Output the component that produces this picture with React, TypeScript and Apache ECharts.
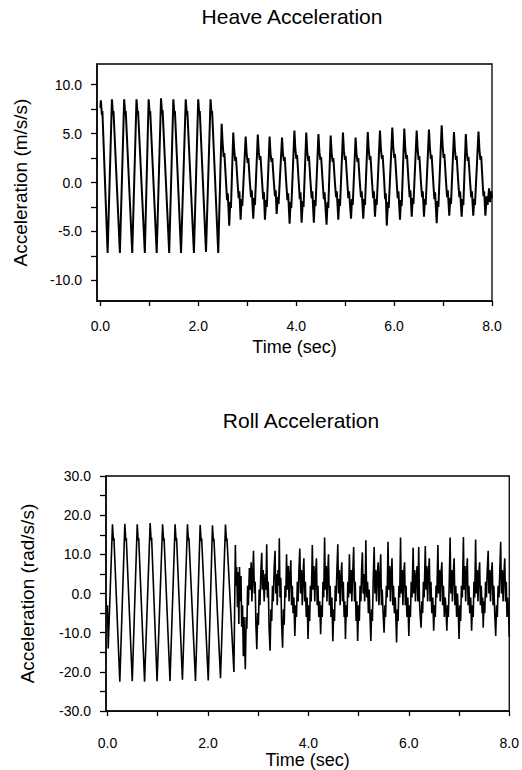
import React, { useEffect, useRef } from "react";
import * as echarts from "echarts";

// ---- axis ticks / labels ----
const timeTicks = [0, 1, 2, 3, 4, 5, 6, 7, 8];
const timeLabels = [0, 2, 4, 6, 8];
const heaveTicks = [-10, -7.5, -5, -2.5, 0, 2.5, 5, 7.5, 10];
const heaveLabels = [-10, -5, 0, 5, 10];
const rollTicks = [-30, -25, -20, -15, -10, -5, 0, 5, 10, 15, 20, 25, 30];
const rollLabels = [-30, -20, -10, 0, 10, 20, 30];

// ---- Heave acceleration (m/s/s), [time s, value] ----
const heaveRegular: [number, number][] = [
  [0.0, 7.6], [0.008, 8.4], [0.03, 6.9], [0.04, 7.3], [0.147, -7.2],
  [0.235, 8.5], [0.257, 6.9], [0.267, 7.3], [0.398, -7.2],
  [0.485, 8.5], [0.507, 6.9], [0.517, 7.3], [0.65, -7.2],
  [0.737, 8.5], [0.759, 7.0], [0.769, 7.3], [0.907, -7.2],
  [0.985, 8.5], [1.007, 6.9], [1.017, 7.3], [1.15, -7.2],
  [1.238, 8.6], [1.26, 7.0], [1.27, 7.4], [1.405, -7.2],
  [1.49, 8.5], [1.512, 6.9], [1.522, 7.3], [1.647, -7.2],
  [1.743, 8.5], [1.765, 6.9], [1.775, 7.3], [1.91, -7.2],
  [1.998, 8.5], [2.02, 6.9], [2.03, 7.3], [2.157, -7.1],
  [2.25, 8.5], [2.272, 6.9], [2.282, 7.3], [2.407, -7.2],
];

const heaveIrregularA: [number, number][] = [
  [2.477, 6.0], [2.497, 4.0], [2.517, 2.6], [2.532, 3.0], [2.562, 0.4], [2.587, -1.8], [2.602, -1.1], [2.632, -4.4], [2.652, -2.0], [2.667, -2.6],
  [2.714, 5.1], [2.734, 3.3], [2.754, 2.2], [2.769, 2.6], [2.799, 0.2], [2.824, -1.6], [2.839, -0.9], [2.864, -3.8], [2.884, -1.7], [2.899, -2.4],
  [2.967, 4.7], [2.987, 3.0], [3.007, 2.0], [3.022, 2.5], [3.052, 0.1], [3.077, -1.5], [3.092, -0.8], [3.122, -3.7], [3.142, -1.6], [3.157, -2.3],
  [3.215, 4.9], [3.235, 3.1], [3.255, 2.3], [3.27, 2.7], [3.3, 0.3], [3.325, -1.7], [3.34, -1.0], [3.361, -3.8], [3.385, -1.8], [3.4, -2.5],
  [3.456, 4.7], [3.476, 2.9], [3.496, 2.1], [3.511, 2.5], [3.541, 0.2], [3.566, -1.4], [3.581, -0.8], [3.6, -3.2], [3.625, -1.5], [3.64, -2.2],
  [3.71, 4.6], [3.73, 2.9], [3.75, 2.2], [3.765, 2.6], [3.795, 0.1], [3.82, -1.8], [3.835, -1.1], [3.865, -4.2], [3.885, -2.0], [3.9, -2.6],
  [3.963, 5.3], [3.983, 3.4], [4.003, 2.4], [4.018, 2.8], [4.048, 0.3], [4.073, -1.7], [4.088, -1.0], [4.11, -4.1], [4.135, -1.9], [4.15, -2.5],
  [4.205, 5.1], [4.225, 3.2], [4.245, 2.2], [4.26, 2.7], [4.29, 0.2], [4.315, -1.6], [4.33, -0.9], [4.36, -4.1], [4.38, -1.8], [4.395, -2.4],
  [4.454, 4.95], [4.474, 3.1], [4.494, 2.3], [4.509, 2.6], [4.539, 0.2], [4.564, -1.7], [4.579, -1.0], [4.62, -4.3], [4.64, -2.0], [4.655, -2.6],
  [4.704, 4.8], [4.724, 3.0], [4.744, 2.1], [4.759, 2.5], [4.789, 0.1], [4.814, -1.5], [4.829, -0.9], [4.86, -3.8], [4.88, -1.7], [4.895, -2.4],
  [4.955, 5.1], [4.975, 3.2], [4.995, 2.3], [5.01, 2.7], [5.04, 0.3], [5.065, -1.6], [5.08, -0.9], [5.12, -3.7], [5.14, -1.7], [5.155, -2.3],
];

const heaveIrregularB: [number, number][] = [
  [5.213, 4.6], [5.233, 2.9], [5.253, 2.1], [5.268, 2.5], [5.298, 0.1], [5.323, -1.5], [5.338, -0.9], [5.37, -3.7], [5.39, -1.7], [5.405, -2.3],
  [5.462, 5.15], [5.482, 3.3], [5.502, 2.3], [5.517, 2.7], [5.547, 0.2], [5.572, -1.6], [5.587, -0.9], [5.609, -3.5], [5.63, -1.7], [5.645, -2.3],
  [5.711, 5.3], [5.731, 3.4], [5.751, 2.4], [5.766, 2.8], [5.796, 0.3], [5.816, -1.7], [5.83, -1.1], [5.85, -4.4], [5.875, -2.0], [5.89, -2.6],
  [5.963, 5.6], [5.983, 3.6], [6.003, 2.5], [6.018, 2.9], [6.048, 0.4], [6.073, -1.6], [6.088, -0.9], [6.12, -3.8], [6.14, -1.8], [6.155, -2.4],
  [6.208, 5.5], [6.228, 3.5], [6.248, 2.4], [6.263, 2.8], [6.293, 0.3], [6.318, -1.5], [6.333, -0.8], [6.36, -3.5], [6.38, -1.6], [6.395, -2.2],
  [6.461, 5.3], [6.481, 3.4], [6.501, 2.3], [6.516, 2.7], [6.546, 0.2], [6.571, -1.5], [6.586, -0.9], [6.61, -3.5], [6.63, -1.7], [6.645, -2.3],
  [6.712, 5.4], [6.732, 3.5], [6.752, 2.4], [6.767, 2.8], [6.797, 0.3], [6.822, -1.7], [6.837, -1.0], [6.87, -4.15], [6.89, -1.9], [6.905, -2.5],
  [6.972, 5.85], [6.992, 3.7], [7.012, 2.5], [7.027, 2.9], [7.057, 0.4], [7.082, -1.5], [7.097, -0.8], [7.127, -3.4], [7.147, -1.6], [7.162, -2.2],
  [7.223, 5.15], [7.243, 3.3], [7.263, 2.3], [7.278, 2.7], [7.308, 0.2], [7.333, -1.5], [7.348, -0.9], [7.38, -3.5], [7.4, -1.7], [7.415, -2.3],
  [7.465, 4.95], [7.485, 3.1], [7.505, 2.2], [7.52, 2.6], [7.55, 0.2], [7.575, -1.5], [7.59, -0.9], [7.617, -3.4], [7.637, -1.7], [7.652, -2.3],
  [7.724, 5.2], [7.744, 3.3], [7.764, 2.3], [7.779, 2.7], [7.805, 0.3], [7.825, -1.4], [7.84, -0.9], [7.865, -3.4], [7.89, -1.4], [7.91, -2.3],
  [7.94, -0.6], [7.96, -2.0], [7.985, -0.9], [8.0, -1.6],
];

// ---- Roll acceleration (rad/s/s), [time s, value] ----
const rollRegular: [number, number][] = [
  [0.0, -3.0], [0.014, -14.0], [0.099, 17.7], [0.118, 13.5], [0.128, 14.2], [0.245, -22.5],
  [0.345, 17.8], [0.364, 13.5], [0.374, 14.2], [0.493, -22.4],
  [0.592, 17.7], [0.611, 13.5], [0.621, 14.2], [0.738, -22.5],
  [0.849, 18.0], [0.868, 13.6], [0.878, 14.3], [0.987, -22.4],
  [1.097, 17.7], [1.116, 13.5], [1.126, 14.2], [1.244, -22.3],
  [1.346, 17.7], [1.365, 13.5], [1.375, 14.2], [1.492, -22.0],
  [1.592, 17.7], [1.611, 13.5], [1.621, 14.2], [1.752, -22.3],
  [1.845, 17.5], [1.864, 13.4], [1.874, 14.1], [2.006, -22.2],
  [2.09, 17.4], [2.109, 13.3], [2.119, 14.0], [2.25, -21.6],
  [2.349, 17.6], [2.368, 13.4], [2.378, 14.1], [2.517, -20.0],
];

const rollIrregularA: [number, number][] = [
  [2.546, 12.4], [2.56, 2.0], [2.572, 6.8], [2.588, -3.5], [2.6, 5.5], [2.615, -7.8], [2.628, 6.8], [2.645, -2.0], [2.658, 4.5], [2.672, -8.5], [2.688, -3.0], [2.705, -16.0], [2.718, -6.0], [2.73, -12.0],
  [2.744, -19.3], [2.762, -6], [2.775, -9], [2.79, 2], [2.805, -3], [2.825, 6.5], [2.84, 1], [2.86, 8], [2.875, -2], [2.89, 4], [2.907, 10.9], [2.925, 0], [2.94, 3], [2.955, -8],
  [2.973, -14.2], [2.99, -5], [3.005, -8], [3.02, 1], [3.035, -3], [3.055, 6], [3.071, 10.4], [3.085, 1], [3.1, 6], [3.12, -2], [3.14, 5], [3.155, 1], [3.17, 12.6], [3.185, -1], [3.2, 3], [3.218, -9],
  [3.237, -14.6], [3.255, -4], [3.27, -7], [3.285, 2], [3.3, -2], [3.32, 7], [3.336, 10.9], [3.35, 0], [3.365, 5], [3.38, -3], [3.395, 6], [3.41, 2], [3.421, 14.1], [3.435, -1], [3.45, 4], [3.468, -8],
  [3.486, -13.8], [3.503, -4], [3.518, -8], [3.535, 2], [3.55, -1], [3.565, 10.0], [3.58, 1], [3.6, 7], [3.615, -2], [3.63, 4], [3.65, 8.5], [3.665, -3], [3.68, 2], [3.695, -5], [3.712, -1],
  [3.73, -10.8], [3.748, -3], [3.763, -6], [3.78, 3], [3.795, -2], [3.812, 6], [3.829, 11.5], [3.845, 0], [3.86, 6], [3.878, -3], [3.893, 5], [3.91, 9], [3.925, -2], [3.94, 3], [3.958, -6], [3.975, -1],
  [3.993, -11.6], [4.01, -3], [4.025, -7], [4.04, 2], [4.055, -2], [4.07, 6], [4.078, 12.4], [4.095, 1], [4.11, 7], [4.127, -2], [4.143, 5], [4.16, 9], [4.175, -3], [4.19, 2], [4.208, -6], [4.226, -2],
  [4.244, -10.4], [4.26, -3], [4.275, -6], [4.29, 3], [4.305, -1], [4.323, 14.3], [4.338, 1], [4.355, 7], [4.37, -2], [4.385, 5], [4.4, 10], [4.418, -3], [4.433, 2], [4.45, -6], [4.468, -1],
  [4.487, -12.2], [4.505, -4], [4.52, -7], [4.535, 2], [4.55, -2], [4.568, 6], [4.586, 12.6], [4.6, 0], [4.615, 6], [4.632, -3], [4.648, 4], [4.665, 8], [4.68, -2], [4.695, 3], [4.712, -6], [4.725, -2],
  [4.738, -11.6], [4.755, -3], [4.77, -6], [4.785, 3], [4.8, -1], [4.817, 10.0], [4.833, 0], [4.85, 6], [4.865, -2], [4.88, 4], [4.902, 11.9], [4.918, -2], [4.933, 3], [4.95, -7], [4.965, -2],
  [4.981, -12.1], [5.0, -3], [5.015, -7], [5.03, 2], [5.045, -2], [5.06, 6], [5.075, 10.5], [5.09, 0], [5.105, 5], [5.12, -2], [5.135, 4], [5.144, 13.6], [5.16, -1], [5.178, 3], [5.195, -5], [5.21, 1], [5.227, -6],
];

const rollIrregularB: [number, number][] = [
  [5.244, -12.1], [5.26, -4], [5.275, -7], [5.29, 3], [5.31, 11.9], [5.325, 0], [5.34, 6], [5.357, -2], [5.372, 5], [5.39, 8], [5.405, -3], [5.42, 3], [5.44, 10], [5.455, -3], [5.47, 1], [5.488, -5],
  [5.507, -10.0], [5.523, -3], [5.538, -6], [5.553, 2], [5.568, -1], [5.586, 13.2], [5.6, 1], [5.618, 7], [5.633, -2], [5.65, 5], [5.665, 9], [5.68, -3], [5.695, 2], [5.712, -5], [5.73, -1],
  [5.756, -12.5], [5.772, -4], [5.787, -7], [5.802, 2], [5.818, -1], [5.835, 14.3], [5.85, 0], [5.867, 6], [5.882, -3], [5.898, 5], [5.915, 8], [5.93, -3], [5.945, 2], [5.962, -6], [5.98, -1],
  [6.0, -10.8], [6.017, -3], [6.032, -6], [6.048, 3], [6.063, -1], [6.086, 11.7], [6.1, 0], [6.117, 6], [6.132, -2], [6.148, 4], [6.165, 7], [6.18, -2], [6.197, 11.9], [6.212, -2], [6.228, -6],
  [6.244, -8.7], [6.26, -2], [6.275, -5], [6.29, 3], [6.305, -1], [6.328, 12.1], [6.343, 1], [6.36, 7], [6.375, -2], [6.39, 5], [6.408, 9], [6.423, -2], [6.44, 3], [6.458, -5], [6.477, -1],
  [6.495, -9.5], [6.512, -3], [6.527, -6], [6.542, 2], [6.557, -1], [6.579, 12.4], [6.593, 0], [6.61, 6], [6.625, -2], [6.64, 5], [6.658, 8], [6.673, -3], [6.69, 2], [6.707, -6], [6.725, -1], [6.74, -4],
  [6.757, -9.5], [6.772, -3], [6.787, -6], [6.805, 3], [6.822, 14.3], [6.837, 0], [6.853, 6], [6.868, -2], [6.885, 5], [6.902, 9], [6.918, -3], [6.935, 2], [6.952, -6], [6.968, 0], [6.983, -4],
  [7.0, -11.6], [7.017, -3], [7.032, -7], [7.048, 2], [7.065, -1], [7.087, 14.4], [7.1, 1], [7.117, 7], [7.132, -2], [7.148, 5], [7.165, 9], [7.18, -3], [7.197, 2], [7.213, -5], [7.232, -1],
  [7.25, -9.5], [7.267, -3], [7.282, -6], [7.297, 3], [7.312, -1], [7.33, 13.8], [7.345, 0], [7.362, 6], [7.377, -2], [7.393, 5], [7.41, 8], [7.425, -3], [7.442, 2], [7.46, -5], [7.47, -1],
  [7.481, -8.7], [7.497, -2], [7.512, -5], [7.528, 3], [7.545, -1], [7.562, 6], [7.58, 10.9], [7.595, 0], [7.61, 6], [7.627, -2], [7.643, 5], [7.66, 8], [7.677, -3], [7.693, 2], [7.71, -5],
  [7.73, -10.8], [7.747, -3], [7.762, -6], [7.778, 2], [7.795, -1], [7.812, 6], [7.829, 13.2], [7.843, 0], [7.86, 6], [7.877, -2], [7.893, 5], [7.91, 9], [7.925, -2], [7.94, 3], [7.955, -6], [7.97, -1], [7.985, -4], [8.0, -11],
];

const FONT = "'Liberation Sans', Arial, Helvetica, sans-serif";

export default function App() {
  const ref = useRef<HTMLDivElement>(null);

  useEffect(() => {
    if (!ref.current) return;
    const chart = echarts.init(ref.current, null, { renderer: "svg" });
    const fmt = (v: number) => v.toFixed(1);
    const axisLine = { show: true, onZero: false, lineStyle: { color: "#000", width: 1.5 } };

    const xAxis = (gridIndex: number, min: number, labelMargin: number, nameGap: number) => ({
      type: "value",
      gridIndex,
      min,
      max: 8,
      name: "Time (sec)",
      nameLocation: "middle",
      nameGap,
      nameTextStyle: { fontSize: 18, color: "#000", fontFamily: FONT },
      axisLine,
      axisTick: { show: true, customValues: timeTicks, length: 5, lineStyle: { color: "#000", width: 1.3 } },
      axisLabel: {
        customValues: timeLabels,
        formatter: fmt,
        fontSize: 14,
        color: "#000",
        fontFamily: FONT,
        margin: labelMargin,
      },
      splitLine: { show: false },
    });

    const yAxis = (
      gridIndex: number,
      min: number,
      max: number,
      ticks: number[],
      labels: number[],
      name: string,
      nameGap: number
    ) => ({
      type: "value",
      gridIndex,
      min,
      max,
      name,
      nameLocation: "middle",
      nameGap,
      nameTextStyle: { fontSize: 19, color: "#000", fontFamily: FONT },
      axisLine,
      axisTick: { show: true, customValues: ticks, length: 6, lineStyle: { color: "#000", width: 1.3 } },
      axisLabel: {
        customValues: labels,
        formatter: fmt,
        fontSize: 14,
        color: "#000",
        fontFamily: FONT,
        margin: 15,
      },
      splitLine: { show: false },
    });

    const lineSeries = (idx: number, data: [number, number][], width: number) => ({
      type: "line",
      xAxisIndex: idx,
      yAxisIndex: idx,
      data,
      showSymbol: false,
      symbol: "none",
      silent: true,
      lineStyle: { color: "#000", width },
    });

    chart.setOption({
      animation: false,
      backgroundColor: "#fff",
      graphic: [
        {
          type: "text",
          x: 292,
          y: 16,
          style: {
            text: "Heave Acceleration",
            fontSize: 21,
            fontFamily: FONT,
            fill: "#000",
            align: "center",
            verticalAlign: "middle",
          },
        },
        {
          type: "text",
          x: 301,
          y: 420,
          style: {
            text: "Roll Acceleration",
            fontSize: 21,
            fontFamily: FONT,
            fill: "#000",
            align: "center",
            verticalAlign: "middle",
          },
        },
      ],
      grid: [
        { left: 97, width: 395, top: 64, height: 237, show: true, borderColor: "#000", borderWidth: 1.3 },
        { left: 106, width: 407, top: 476, height: 236, show: true, borderColor: "#000", borderWidth: 1.3 },
      ],
      xAxis: [xAxis(0, -0.07, 18, 37), xAxis(1, -0.03, 25, 38)],
      yAxis: [
        yAxis(0, -12.1, 12.1, heaveTicks, heaveLabels, "Acceleration (m/s/s)", 67),
        yAxis(1, -30, 30, rollTicks, rollLabels, "Acceleration (rad/s/s)", 69),
      ],
      series: [
        lineSeries(0, [...heaveRegular, ...heaveIrregularA, ...heaveIrregularB], 2.0),
        lineSeries(1, [...rollRegular, ...rollIrregularA, ...rollIrregularB], 1.6),
      ],
    });

    return () => chart.dispose();
  }, []);

  return (
    <div
      ref={ref}
      style={{ position: "fixed", left: 0, top: 0, width: 522, height: 770, background: "#fff" }}
    />
  );
}
